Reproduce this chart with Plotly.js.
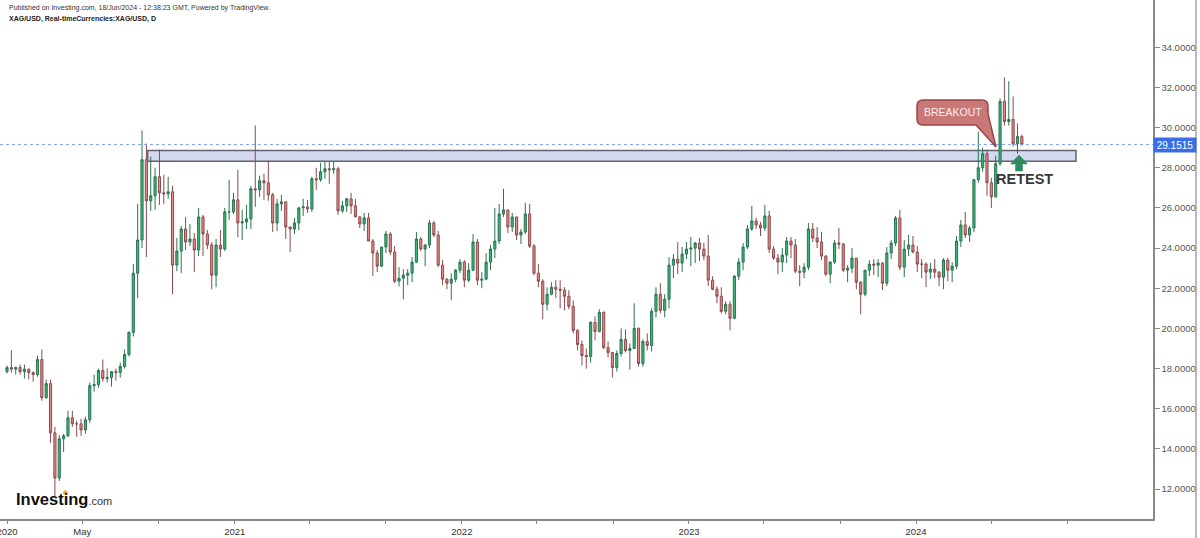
<!DOCTYPE html>
<html><head><meta charset="utf-8">
<script src="https://cdn.plot.ly/plotly-3.0.1.min.js"></script>
<style>html,body{margin:0;padding:0;background:#fff;overflow:hidden;} #chart{width:1200px;height:538px;}</style>
</head><body><div id="chart"></div>
<script>
// ---- DATA (weekly OHLC of XAG/USD) ----
const firstWeekMonday = '2019-12-30';
const ohlc2020 = [
[17.85,18.15,17.75,18.05],[18.05,18.90,17.80,17.97],[17.97,18.10,17.70,18.05],[18.05,18.20,17.70,17.85],
[17.85,18.20,17.50,17.97],[17.97,18.00,17.45,17.80],[17.80,17.85,17.35,17.70],[17.70,18.65,17.60,18.45],
[18.45,18.95,16.40,16.55],[16.55,17.45,16.50,17.25],[17.25,17.45,14.30,14.80],[14.80,15.10,11.65,12.55],
[12.55,14.70,12.40,14.50],[14.50,14.75,13.85,14.65],[14.65,15.90,14.60,15.55],[15.55,15.90,15.10,15.25],
[15.25,15.40,14.60,15.25],[15.25,15.50,14.65,14.95],[14.95,15.60,14.75,15.45],[15.45,17.30,15.30,17.15],
[17.15,17.70,16.85,17.20],[17.20,18.00,17.05,17.90],[17.90,18.45,17.35,17.50],[17.50,18.00,17.30,17.55],
[17.55,17.85,17.10,17.85],[17.85,18.00,17.40,17.80],[17.80,18.30,17.55,18.10],[18.10,18.95,18.00,18.70],
[18.70,19.85,18.60,19.80],[19.80,23.20,19.60,22.75],[22.75,26.20,21.50,24.40],[24.40,29.85,24.00,28.40],
[28.40,29.20,23.55,26.35],[26.35,28.55,25.85,26.60],[26.60,28.00,25.90,27.55],[27.55,28.90,26.15,26.75],
[26.75,27.65,26.20,26.70],[26.70,27.55,26.45,26.80],[26.80,27.10,21.70,23.15],[23.15,24.50,22.85,23.85],
[23.85,25.10,22.75,24.95],[24.95,25.55,23.90,24.30],[24.30,25.20,24.10,24.45],[24.45,24.75,22.80,23.90],
[23.90,26.00,23.60,25.55],[25.55,25.65,23.60,24.70],[24.70,24.90,23.95,24.15],[24.15,24.30,21.95,22.65],
[22.65,24.45,22.05,24.15],[24.15,24.90,23.55,23.95],[23.95,26.00,23.85,25.80],[25.80,27.40,25.40,25.80],
[25.80,26.75,25.70,26.40]
];
const ohlc2021 = [
[26.40,27.90,24.55,25.25],[25.25,25.90,24.40,25.30],[25.30,26.15,24.95,25.45],[25.45,27.10,24.95,26.95],
[26.95,30.10,26.05,26.90],[26.90,27.60,26.55,27.35],[27.35,27.70,26.40,27.25],[27.25,28.35,26.35,26.65],
[26.65,26.75,24.80,25.25],[25.25,26.45,24.85,26.20],[26.20,26.65,25.85,26.30],[26.30,26.30,24.45,25.05],
[25.05,25.05,23.80,24.95],[24.95,25.50,24.70,25.25],[25.25,26.05,24.90,26.00],[26.00,26.45,25.60,26.05],
[26.05,26.40,25.75,25.95],[25.95,27.55,25.80,27.45],[27.45,28.00,26.90,27.40],[27.40,28.25,27.30,27.80],
[27.80,28.30,27.45,27.95],[27.95,28.30,27.20,27.90],[27.90,28.30,27.70,27.95],[27.95,28.05,25.65,25.85],
[25.85,26.35,25.75,26.10],[26.10,26.50,25.80,26.45],[26.45,26.75,25.70,26.10],[26.10,26.45,25.55,25.55],
[25.55,25.60,25.00,25.20],[25.20,25.75,24.85,25.50],[25.50,25.75,24.35,24.35],[24.35,24.45,22.60,23.75],
[23.75,23.90,22.80,23.10],[23.10,24.05,23.05,24.05],[24.05,24.85,23.75,24.70],[24.70,24.80,23.65,23.80],
[23.80,24.10,22.25,22.35],[22.35,23.05,22.10,22.50],[22.50,22.95,21.45,22.65],[22.65,22.95,22.15,22.75],
[22.75,23.55,22.30,23.30],[23.30,24.80,23.25,24.45],[24.45,24.55,23.85,23.95],[23.95,24.20,23.10,24.15],
[24.15,25.40,24.00,25.25],[25.25,25.35,24.55,24.65],[24.65,24.85,23.05,23.15],[23.15,23.40,22.15,22.45],
[22.45,22.50,21.95,22.25],[22.25,22.75,21.40,22.45],[22.45,22.95,22.30,22.90],[22.90,23.45,22.75,23.30]
];
const ohlc2022 = [
[23.30,23.40,22.05,22.40],[22.40,23.25,22.30,22.90],[22.90,24.70,22.85,24.30],[24.30,24.45,22.15,22.40],
[22.40,22.80,22.00,22.45],[22.45,23.75,22.40,23.30],[23.30,24.15,22.90,23.95],[23.95,26.00,23.50,24.35],
[24.35,26.20,24.20,25.70],[25.70,26.95,25.55,25.90],[25.90,25.90,24.75,25.05],[25.05,25.75,24.80,25.55],
[25.55,25.55,24.40,24.65],[24.65,24.95,24.20,24.80],[24.80,26.25,24.70,25.70],[25.70,26.20,24.00,24.10],
[24.10,24.20,22.65,22.75],[22.75,23.20,22.05,22.35],[22.35,22.45,20.45,21.20],[21.20,22.05,20.90,21.70],
[21.70,22.30,21.65,22.05],[22.05,22.40,21.50,21.95],[21.95,22.40,21.00,21.90],[21.90,22.05,20.90,21.60],
[21.60,21.90,20.95,21.10],[21.10,21.40,19.75,19.90],[19.90,19.95,18.90,19.20],[19.20,19.40,18.15,18.65],
[18.65,19.00,18.00,18.60],[18.60,20.35,18.30,20.30],[20.30,20.60,19.40,19.85],[19.85,20.95,19.80,20.80],
[20.80,20.85,18.95,19.05],[19.05,19.35,18.55,18.80],[18.80,18.80,17.55,18.05],[18.05,18.90,17.85,18.75],
[18.75,20.00,18.60,19.45],[19.45,19.95,18.80,18.90],[18.90,19.25,17.95,19.00],[19.00,21.25,19.00,20.00],
[20.00,20.05,18.10,18.25],[18.25,19.45,18.10,19.35],[19.35,19.75,18.90,19.15],[19.15,21.00,18.85,20.85],
[20.85,22.05,20.55,21.70],[21.70,22.25,20.75,20.90],[20.90,21.70,20.55,21.45],[21.45,23.55,21.00,23.15],
[23.15,23.70,22.50,23.45],[23.45,24.30,22.70,23.25],[23.25,24.05,22.80,23.70],[23.70,24.30,23.45,23.95]
];
const ohlc2023 = [
[23.95,24.55,23.10,24.00],[24.00,24.30,23.25,24.25],[24.25,24.50,23.35,23.95],[23.95,24.25,23.40,23.60],
[23.60,24.65,22.10,22.40],[22.40,22.60,21.90,21.95],[21.95,22.10,21.25,21.60],[21.60,22.05,20.75,20.85],
[20.85,21.35,20.70,21.20],[21.20,21.35,19.90,20.50],[20.50,22.65,20.45,22.60],[22.60,23.50,22.40,23.30],
[23.30,24.25,22.90,24.05],[24.05,25.15,23.95,24.95],[24.95,26.10,24.85,25.35],[25.35,25.50,24.95,25.15],
[25.15,25.30,24.60,25.00],[25.00,26.15,24.85,25.60],[25.60,25.85,23.75,23.95],[23.95,24.10,23.40,23.50],
[23.50,23.70,22.70,23.30],[23.30,24.00,22.80,23.65],[23.65,24.55,23.25,24.35],[24.35,24.55,23.50,24.15],
[24.15,24.45,22.75,22.85],[22.85,23.15,22.10,22.80],[22.80,23.25,22.50,23.05],[23.05,25.25,22.90,24.95],
[24.95,25.25,24.30,24.50],[24.50,25.05,24.00,24.30],[24.30,24.80,23.40,23.60],[23.60,23.65,22.60,22.70],
[22.70,23.35,22.25,23.30],[23.30,24.40,23.20,24.25],[24.25,25.00,23.95,24.20],[24.20,24.25,22.80,22.90],
[22.90,23.15,22.30,23.00],[23.00,24.00,22.75,23.50],[23.50,23.50,21.95,22.30],[22.30,22.35,20.70,21.70],
[21.70,22.90,21.60,22.90],[22.90,23.40,22.60,23.20],[23.20,23.45,22.65,23.15],[23.15,23.45,22.55,23.25],
[23.25,23.30,21.90,22.25],[22.25,24.05,22.10,23.75],[23.75,24.40,23.45,24.25],[24.25,25.60,24.10,25.50],
[25.50,25.90,22.90,23.05],[23.05,24.40,22.55,23.95],[23.95,24.65,23.60,24.15],[24.15,24.60,23.75,23.80]
];
const ohlc2024 = [
[23.80,24.10,22.80,23.20],[23.20,23.45,22.50,23.20],[23.20,23.30,22.05,22.80],[22.80,23.25,22.45,22.95],
[22.95,23.45,22.50,22.80],[22.80,22.85,22.10,22.55],[22.55,23.50,21.95,23.40],[23.40,23.50,22.35,22.90],
[22.90,23.30,22.30,23.10],[23.10,24.60,22.95,24.35],[24.35,25.40,24.05,25.15],[25.15,25.80,24.50,24.65],
[24.65,25.10,24.30,25.00],[25.00,27.45,24.80,27.40],[27.40,29.80,27.25,28.00],[28.00,29.00,27.80,28.70],
[28.70,28.90,26.60,27.25],[27.25,27.50,26.00,26.55],[26.55,28.60,26.50,28.20],[28.20,31.45,28.10,31.30],
[31.30,32.50,30.10,30.30],[30.30,32.30,30.10,30.40],[30.40,31.55,29.05,29.20],[29.20,30.20,28.70,29.55],
[29.55,29.65,29.10,29.15]
];
const yTickValues = [12,14,16,18,20,22,24,26,28,30,32,34];
const xTickDates = ['2020-01-01','2020-05-01','2020-09-01','2021-01-01','2021-05-01','2021-09-01',
  '2022-01-01','2022-05-01','2022-09-01','2023-01-01','2023-05-01','2023-09-01','2024-01-01','2024-05-01','2024-09-01'];
const xTickLabels = ['2020','May','','2021','','','2022','','','2023','','','2024','',''];
const lastPrice = 29.1515;
const zoneLow = 28.32, zoneHigh = 28.86;
const zoneStart = '2020-08-14', zoneEnd = '2024-09-14';
const headerLine1 = 'Published on Investing.com, 18/Jun/2024 - 12:38:23 GMT, Powered by TradingView.';
const headerLine2 = 'XAG/USD, Real-timeCurrencies:XAG/USD, D';

// ---- build series ----
const allWeeks = ohlc2020.concat(ohlc2021, ohlc2022, ohlc2023, ohlc2024);
const t0 = Date.parse(firstWeekMonday + 'T00:00:00Z');
const xDates = allWeeks.map((_, i) => new Date(t0 + (7 * i + 2) * 864e5).toISOString().slice(0, 10));
const opens = allWeeks.map(r => r[0]);
const highs = allWeeks.map(r => r[1]);
const lows = allWeeks.map(r => r[2]);
const closes = allWeeks.map(r => r[3]);

// pixel helpers for decorations (plot area = 1153 x 519 px)
const W = 1153, H = 519;
const PX = x => x / W, PY = y => 1 - y / H;
const P = (x, y) => PX(x) + ',' + PY(y);

const FONT = 'Liberation Sans, Arial, sans-serif';

const trace = {
  type: 'candlestick',
  x: xDates, open: opens, high: highs, low: lows, close: closes,
  increasing: {line: {color: '#2a7451', width: 1}, fillcolor: '#3cb878'},
  decreasing: {line: {color: '#8e4a4a', width: 1}, fillcolor: '#e48a8a'},
  whiskerwidth: 0,
  hoverinfo: 'skip',
  showlegend: false
};

const breakoutPath = 'M' + P(923,100) + ' L' + P(982,100) + ' Q' + P(988,100) + ' ' + P(988,106) +
  ' L' + P(988,114) + ' L' + P(996,147) + ' L' + P(976,125) + ' L' + P(923,125) +
  ' Q' + P(917,125) + ' ' + P(917,119) + ' L' + P(917,106) + ' Q' + P(917,100) + ' ' + P(923,100) + ' Z';
const arrowPath = 'M' + P(1019,155) + ' L' + P(1027.5,164) + ' L' + P(1022.5,164) + ' L' + P(1022.5,171) +
  ' L' + P(1015.5,171) + ' L' + P(1015.5,164) + ' L' + P(1010.5,164) + ' Z';

const layout = {
  width: 1200, height: 538,
  margin: {l: 0, r: 47, t: 0, b: 19, pad: 0},
  paper_bgcolor: '#ffffff', plot_bgcolor: '#ffffff',
  showlegend: false,
  xaxis: {
    type: 'date',
    range: ['2019-12-20 18:00', '2025-01-15 19:00'],
    rangeslider: {visible: false},
    showgrid: false, zeroline: false,
    tickmode: 'array', tickvals: xTickDates, ticktext: xTickLabels,
    ticks: 'outside', ticklen: 3, tickcolor: '#888', tickwidth: 1,
    ticklabeloverflow: 'allow',
    showline: true, linecolor: '#8a8a8a', linewidth: 1.5,
    tickfont: {family: FONT, size: 9.5, color: '#333'},
    fixedrange: true
  },
  yaxis: {
    side: 'right',
    range: [10.51, 36.35],
    showgrid: false, zeroline: false,
    tickmode: 'array', tickvals: yTickValues, tickformat: '.4f',
    ticks: 'outside', ticklen: 5, tickcolor: '#888',
    showline: true, linecolor: '#8a8a8a', linewidth: 1.5,
    tickfont: {family: FONT, size: 9.5, color: '#555'},
    fixedrange: true
  },
  shapes: [
    {type: 'rect', xref: 'x', yref: 'y', x0: zoneStart, x1: zoneEnd, y0: zoneLow, y1: zoneHigh,
     fillcolor: '#d3d9ee', line: {color: '#5f6372', width: 1.5}, layer: 'below'},
    {type: 'line', xref: 'paper', yref: 'y', x0: 0, x1: 1, y0: lastPrice, y1: lastPrice,
     line: {color: '#7d9fec', width: 1, dash: 'dot'}},
    {type: 'path', xref: 'paper', yref: 'paper', path: breakoutPath,
     fillcolor: '#c97878', line: {color: '#9c4545', width: 1.5}},
    {type: 'path', xref: 'paper', yref: 'paper', path: arrowPath,
     fillcolor: '#2f8a5c', line: {color: '#2f8a5c', width: 0.5}},
    {type: 'line', xref: 'paper', yref: 'paper', x0: PX(1196), x1: PX(1196), y0: PY(538), y1: 1,
     line: {color: '#777', width: 1}},
    {type: 'circle', xref: 'paper', yref: 'paper', x0: PX(63), x1: PX(67.4), y0: PY(490.2), y1: PY(494.6),
     fillcolor: '#f5a623', line: {width: 0}}
  ],
  annotations: [
    {xref: 'paper', yref: 'paper', x: PX(7), y: PY(7.5), xanchor: 'left', yanchor: 'middle', showarrow: false,
     text: headerLine1, font: {family: FONT, size: 7, color: '#333'}},
    {xref: 'paper', yref: 'paper', x: PX(7), y: PY(19), xanchor: 'left', yanchor: 'middle', showarrow: false,
     text: '<b>' + headerLine2 + '</b>', font: {family: FONT, size: 7, color: '#222'}},
    {xref: 'paper', yref: 'paper', x: PX(952.5), y: PY(112.5), xanchor: 'center', yanchor: 'middle', showarrow: false,
     text: 'BREAKOUT', font: {family: FONT, size: 10.5, color: '#fbeeee'}},
    {xref: 'paper', yref: 'paper', x: PX(1024.5), y: PY(178.5), xanchor: 'center', yanchor: 'middle', showarrow: false,
     text: '<b>RETEST</b>', font: {family: FONT, size: 14.5, color: '#383838'}},
    {xref: 'paper', yref: 'y', x: 1, y: lastPrice, xanchor: 'left', yanchor: 'middle', showarrow: false,
     text: lastPrice.toFixed(4), bgcolor: '#3a6ee6', borderpad: 1, width: 40, height: 12,
     font: {family: FONT, size: 10, color: '#ffffff'}},
    {xref: 'paper', yref: 'paper', x: PX(14), y: PY(499), xanchor: 'left', yanchor: 'middle', showarrow: false,
     text: '<b>Investing</b><span style="font-size:11px;color:#333">.com</span>',
     font: {family: FONT, size: 16.5, color: '#111'}}
  ]
};

Plotly.newPlot('chart', [trace], layout, {staticPlot: true, displayModeBar: false});
</script>
</body></html>
